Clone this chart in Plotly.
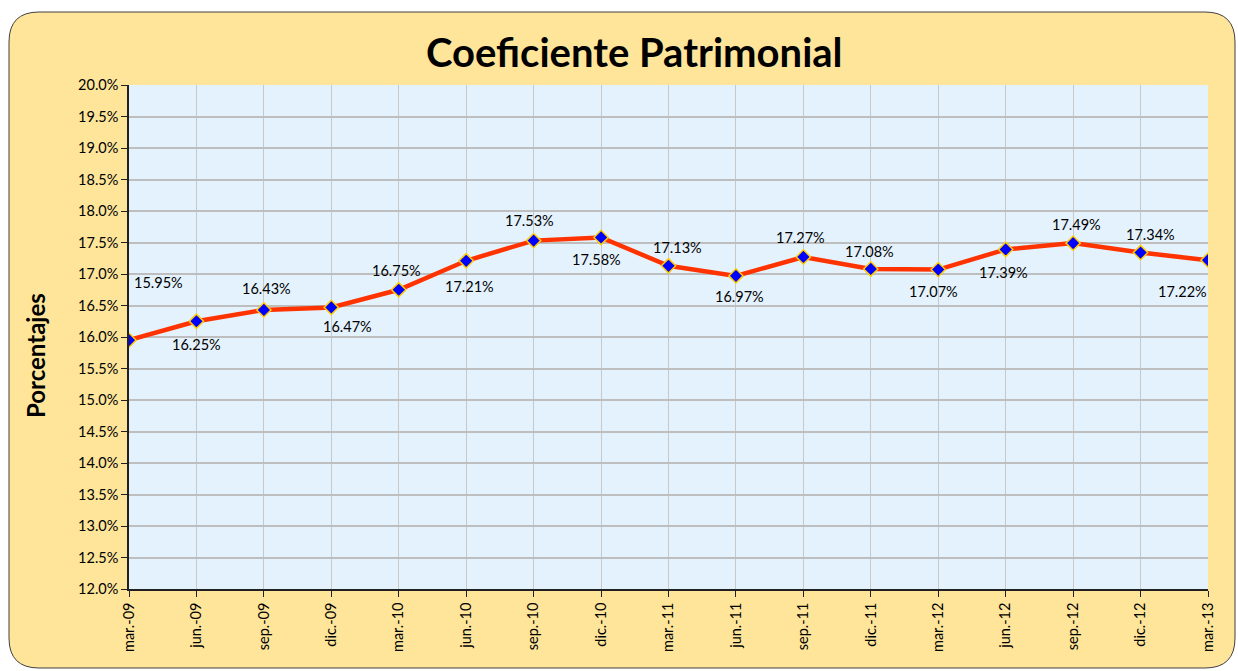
import plotly.graph_objects as go

categories = ["mar.-09", "jun.-09", "sep.-09", "dic.-09", "mar.-10", "jun.-10", "sep.-10", "dic.-10",
              "mar.-11", "jun.-11", "sep.-11", "dic.-11", "mar.-12", "jun.-12", "sep.-12", "dic.-12", "mar.-13"]
values = [15.95, 16.25, 16.43, 16.47, 16.75, 17.21, 17.53, 17.58,
          17.13, 16.97, 17.27, 17.08, 17.07, 17.39, 17.49, 17.34, 17.22]
y_ticks = [12.0 + 0.5 * i for i in range(17)]

# label offsets in pixels (x, y)
label_dx = [29, 0, 3, 16, -2, 3, -4, -5, 9, 4, -3, -1, -5, -2, 3, 10, -26]
label_dy = [58, -23, 21, -19, 19, -26, 20, -22, 18, -21, 19, 17, -22, -23, 19, 18, -31]

FONT = "Lato"
W, H = 1238, 671
L, R, T, B = 129, 30, 85, 82
PW = W - L - R
PH = H - T - B

def px(x):
    return (x - L) / PW

def py(y):
    return 1 - (y - T) / PH

fig = go.Figure()
fig.add_trace(go.Scatter(
    x=categories, y=[v / 100 for v in values], mode="lines+markers",
    line=dict(color="#FF3300", width=4.5),
    marker=dict(symbol="diamond", size=11, color="#0000FF", line=dict(color="#FFCC00", width=1.5)),
    hoverinfo="skip", showlegend=False,
))

annotations = []
for c, v, dx, dy in zip(categories, values, label_dx, label_dy):
    annotations.append(dict(x=c, y=v / 100, xref="x", yref="y", text=f"{v:.2f}%", showarrow=False,
                            xshift=dx, yshift=dy, font=dict(family=FONT, size=14.5, color="#000000")))
annotations.append(dict(x=px(634), y=py(52), xref="paper", yref="paper", xanchor="center", yanchor="middle",
                        text="<b>Coeficiente Patrimonial</b>",
                        showarrow=False, font=dict(family=FONT, size=40, color="#000000")))
annotations.append(dict(x=px(35), y=py(356), xref="paper", yref="paper", xanchor="center", yanchor="middle",
                        text="<b>Porcentajes</b>",
                        textangle=-90, showarrow=False, font=dict(family=FONT, size=24, color="#000000")))

# rounded background frame
x0, y0, x1, y1, r = 9, 12, 1235, 668, 30
path = (f"M {px(x0+r)},{py(y0)} L {px(x1-r)},{py(y0)} Q {px(x1)},{py(y0)} {px(x1)},{py(y0+r)} "
        f"L {px(x1)},{py(y1-r)} Q {px(x1)},{py(y1)} {px(x1-r)},{py(y1)} "
        f"L {px(x0+r)},{py(y1)} Q {px(x0)},{py(y1)} {px(x0)},{py(y1-r)} "
        f"L {px(x0)},{py(y0+r)} Q {px(x0)},{py(y0)} {px(x0+r)},{py(y0)} Z")
shapes = [
    dict(type="path", path=path, xref="paper", yref="paper", fillcolor="#FEE59A",
         line=dict(color="#404040", width=1), layer="below"),
    dict(type="rect", x0=0, x1=1, y0=0, y1=1, xref="paper", yref="paper", fillcolor="#E4F2FD",
         line=dict(width=0), layer="below"),
]

fig.update_layout(
    width=W, height=H, margin=dict(l=L, r=R, t=T, b=B),
    paper_bgcolor="#FFFFFF", plot_bgcolor="rgba(0,0,0,0)",
    annotations=annotations, shapes=shapes,
    font=dict(family=FONT, size=14, color="#000000"),
    xaxis=dict(type="category", range=[0, len(categories) - 1], tickangle=-90,
               showgrid=True, gridcolor="#C8C8C8", gridwidth=1,
               showline=True, linecolor="#202020", linewidth=1.5,
               ticks="outside", ticklen=6, tickcolor="#202020",
               tickfont=dict(family=FONT, size=14.5)),
    yaxis=dict(range=[0.12, 0.20], tickvals=[t / 100 for t in y_ticks], tickformat=".1%",
               showgrid=True, gridcolor="#BEBEBE", gridwidth=2, zeroline=False,
               showline=True, linecolor="#202020", linewidth=1.5,
               ticks="outside", ticklen=6, tickcolor="#202020",
               tickfont=dict(family=FONT, size=14.5)),
)

fig.write_html("out.html", config={"displayModeBar": False},
               post_script="document.body.style.margin='0';document.body.style.overflow='hidden';")
